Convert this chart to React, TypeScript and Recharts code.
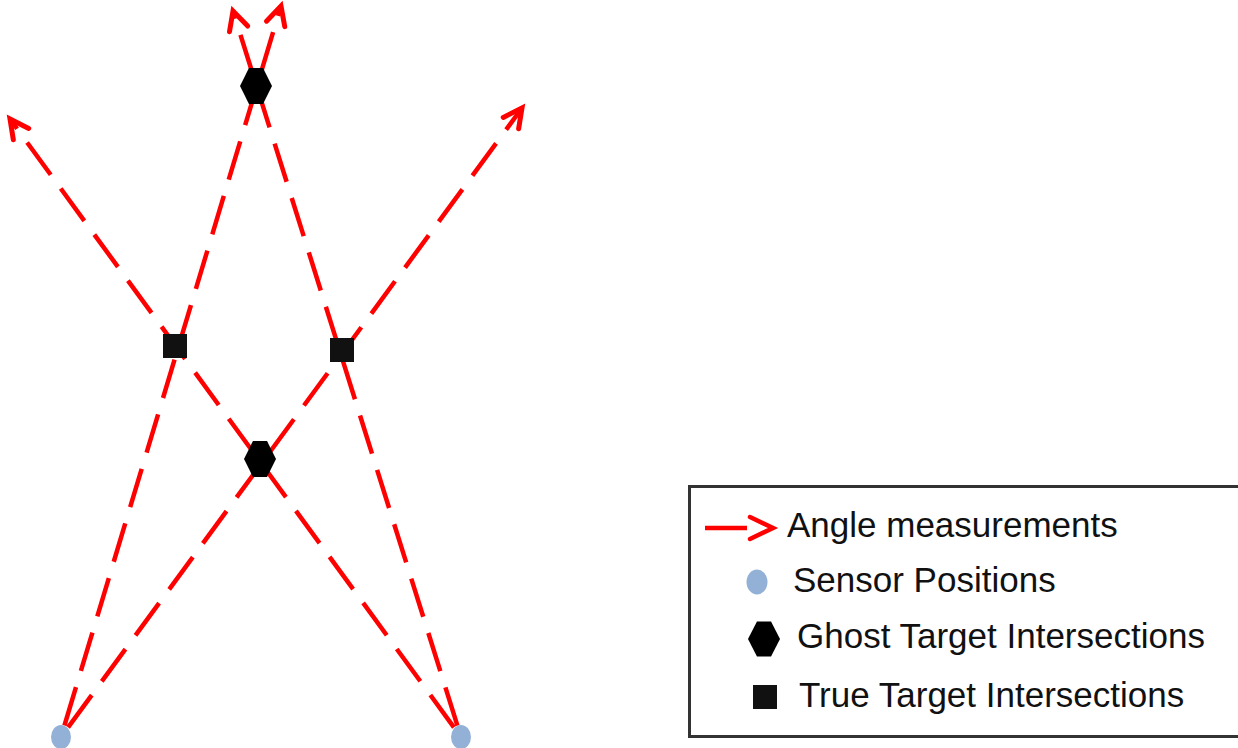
import React from 'react';
import { ComposedChart, Line, Scatter, XAxis, YAxis, Legend } from 'recharts';

const X_DOMAIN: [number, number] = [0, 1238];
const Y_DOMAIN: [number, number] = [0, 748];

const SENSORS = [
  { x: 61, y: 11 },
  { x: 461, y: 11 },
];
const GHOST_TARGETS = [
  { x: 256, y: 662 },
  { x: 260, y: 289 },
];
const TRUE_TARGETS = [
  { x: 175, y: 402 },
  { x: 342, y: 398 },
];
const ARROW_TIPS = [
  { x: 281, y: 742 },
  { x: 522, y: 640 },
  { x: 10, y: 629 },
  { x: 233, y: 737 },
];
// each angle measurement: which sensor it starts from, which arrow tip it ends at
const BEARING_SENSOR = [0, 0, 1, 1];
const BEARING_TIP = [0, 1, 2, 3];

const LEGEND_LABELS = [
  'Angle measurements',
  'Sensor Positions',
  'Ghost Target Intersections',
  'True Target Intersections',
];

const RED = '#FF0000';
const SENSOR_BLUE = '#93B1D7';
const FONT = '"Liberation Sans", Arial, sans-serif';

const bearingSegments = BEARING_SENSOR.map((s, i) => [SENSORS[s], ARROW_TIPS[BEARING_TIP[i]]]);

const ArrowDot = (props: any) => {
  const { cx, cy, index, points } = props;
  if (!points || index !== points.length - 1 || index === 0) return <g />;
  const prev = points[index - 1];
  const ang = Math.atan2(cy - prev.y, cx - prev.x);
  const L = 21;
  const half = (27 * Math.PI) / 180;
  const x1 = cx - L * Math.cos(ang - half);
  const y1 = cy - L * Math.sin(ang - half);
  const x2 = cx - L * Math.cos(ang + half);
  const y2 = cy - L * Math.sin(ang + half);
  return (
    <path
      d={`M${x1},${y1}L${cx},${cy}L${x2},${y2}`}
      fill="none"
      stroke={RED}
      strokeWidth={5}
      strokeDasharray="none"
      strokeLinecap="round"
      strokeLinejoin="miter"
    />
  );
};

const hexPoints = (cx: number, cy: number, w: number, h: number) => {
  const a = w * 0.22;
  return [
    [cx - w / 2, cy],
    [cx - a, cy - h / 2],
    [cx + a, cy - h / 2],
    [cx + w / 2, cy],
    [cx + a, cy + h / 2],
    [cx - a, cy + h / 2],
  ]
    .map((p) => p.join(','))
    .join(' ');
};

const SensorShape = (props: any) => (
  <ellipse cx={props.cx} cy={props.cy} rx={10} ry={12} fill={SENSOR_BLUE} />
);
const GhostShape = (props: any) => (
  <polygon points={hexPoints(props.cx, props.cy, 32, 36)} fill="#000" />
);
const TrueShape = (props: any) => (
  <rect x={props.cx - 12} y={props.cy - 12} width={24} height={24} fill="#111" />
);

const LegendBox = () => {
  const textX = [99, 105, 109, 111];
  const baseY = [52, 107, 163, 222];
  return (
    <div
      style={{
        position: 'relative',
        width: 560,
        height: 253,
        boxSizing: 'border-box',
        border: '3px solid #333',
        background: '#fff',
      }}
    >
      <svg
        width={560}
        height={253}
        style={{ position: 'absolute', left: -3, top: -3, overflow: 'visible' }}
      >
        <line x1={17} y1={43} x2={59} y2={43} stroke={RED} strokeWidth={4.5} />
        <path d="M62,32L85,43L62,54" fill="none" stroke={RED} strokeWidth={4.5} strokeLinecap="round" />
        <ellipse cx={69} cy={97} rx={10.5} ry={12.5} fill={SENSOR_BLUE} />
        <polygon points={hexPoints(76, 154, 32, 35)} fill="#000" />
        <rect x={65} y={200} width={24} height={24} fill="#111" />
        {LEGEND_LABELS.map((label, i) => (
          <text key={label} x={textX[i]} y={baseY[i]} fontFamily={FONT} fontSize={35} fill="#111">
            {label}
          </text>
        ))}
      </svg>
    </div>
  );
};

export default function App() {
  return (
    <div style={{ position: 'absolute', left: 0, top: 0, width: 1238, height: 748, background: '#fff' }}>
      <ComposedChart width={1238} height={748} margin={{ top: 0, right: 0, bottom: 0, left: 0 }}>
        <XAxis type="number" dataKey="x" domain={X_DOMAIN} hide allowDataOverflow />
        <YAxis type="number" dataKey="y" domain={Y_DOMAIN} hide allowDataOverflow />
        {bearingSegments.map((seg, i) => (
          <Line
            key={`bearing-${i}`}
            data={seg}
            dataKey="y"
            type="linear"
            stroke={RED}
            strokeWidth={4.5}
            strokeDasharray="40 17"
            strokeDashoffset={45}
            dot={ArrowDot}
            activeDot={false}
            legendType="none"
            isAnimationActive={false}
          />
        ))}
        <Scatter data={SENSORS} dataKey="y" shape={SensorShape} legendType="none" isAnimationActive={false} />
        <Scatter data={GHOST_TARGETS} dataKey="y" shape={GhostShape} legendType="none" isAnimationActive={false} />
        <Scatter data={TRUE_TARGETS} dataKey="y" shape={TrueShape} legendType="none" isAnimationActive={false} />
        <Legend
          layout="vertical"
          align="center"
          verticalAlign="middle"
          wrapperStyle={{ position: 'absolute', left: 688, top: 485, width: 560, height: 253 }}
          content={() => <LegendBox />}
        />
      </ComposedChart>
    </div>
  );
}
